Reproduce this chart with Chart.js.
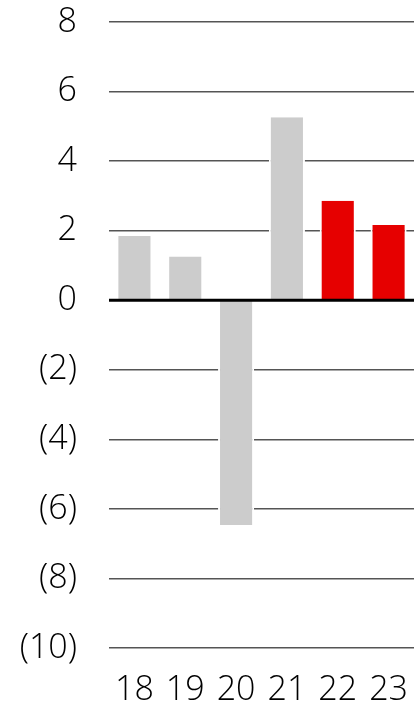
<!DOCTYPE html>
<html>
<head>
<meta charset="utf-8">
<script src="https://cdn.jsdelivr.net/npm/chart.js@4"></script>
<style>
html,body{margin:0;padding:0;background:#fff;}
#wrap{width:414px;height:711px;}
</style>
</head>
<body>
<div id="wrap"><canvas id="chart" width="414" height="711"></canvas></div>
<script>
var years = ["18","19","20","21","22","23"];
var valores = [1.85, 1.26, -6.46, 5.26, 2.86, 2.16];
var colores = ["#cccccc","#cccccc","#cccccc","#cccccc","#e60000","#e60000"];
var yMin = -10;
var yMax = 8;
var yPaso = 2;

// linea del cero encima de las barras
var lineaCero = {
	id: "lineaCero",
	afterDatasetsDraw: function(chart){
		var ctx = chart.ctx;
		var y = chart.scales.y.getPixelForValue(0);
		ctx.save();
		ctx.strokeStyle = "#000";
		ctx.lineWidth = 3;
		ctx.beginPath();
		ctx.moveTo(chart.chartArea.left, y);
		ctx.lineTo(chart.chartArea.right, y);
		ctx.stroke();
		ctx.restore();
	}
};

var datos = {
	type: "bar",
	data: {
		labels: years,
		datasets: [{
			data: valores,
			backgroundColor: colores,
			borderColor: "#ffffff",
			borderWidth: { left: 2, right: 2, top: 0, bottom: 0 },
			borderSkipped: false,
			categoryPercentage: 1,
			barPercentage: 0.71
		}]
	},
	options: {
		responsive: false,
		animation: false,
		layout: { padding: { top: 22, right: 0, left: 0, bottom: 0 } },
		plugins: { legend: { display: false }, tooltip: { enabled: false } },
		scales: {
			x: {
				grid: { display: false, drawTicks: false },
				border: { display: false },
				afterFit: function(s){ s.height = 63; s.paddingRight = 0; s.paddingLeft = 0; },
				ticks: {
					color: "#000",
					padding: 22,
					font: { family: "'Open Sans'", size: 34, weight: 300 }
				}
			},
			y: {
				min: yMin,
				max: yMax,
				border: { display: false },
				afterFit: function(s){ s.width = 109; s.paddingTop = 0; s.paddingBottom = 0; },
				grid: {
					drawTicks: false,
					color: "#555555",
					lineWidth: 1.5
				},
				ticks: {
					stepSize: yPaso,
					color: "#000",
					padding: 32,
					font: { family: "'Open Sans'", size: 34, weight: 300 },
					callback: function(v){
						if (v < 0) return "(" + (-v) + ")";
						return "" + v;
					}
				}
			}
		}
	},
	plugins: [lineaCero]
};

var canvas = document.getElementById("chart").getContext("2d");
window.barras = new Chart(canvas, datos);
</script>
</body>
</html>
